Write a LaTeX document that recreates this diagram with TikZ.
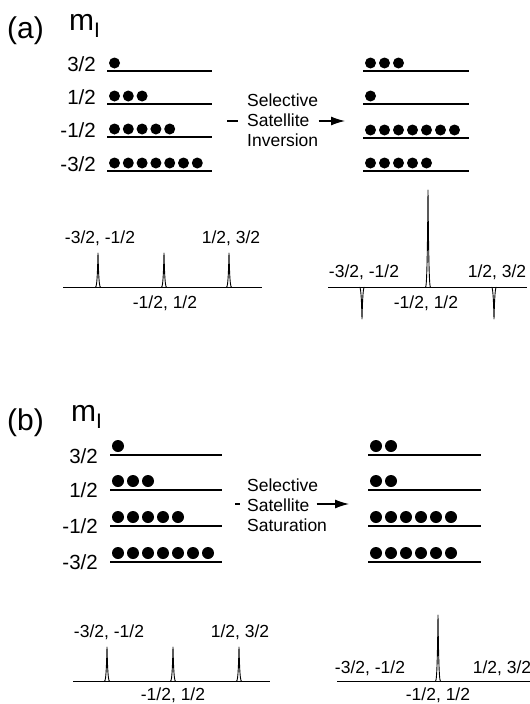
\documentclass[tikz,border=0pt]{standalone}
\usepackage{fontspec}
\setmainfont{Liberation Sans}
\usetikzlibrary{arrows.meta}
\newcommand\dotrow[5]{\foreach \i in {1,...,#4}{\fill ({#1+(\i-1)*#3},#2) circle[radius=#5];}}
\newcommand\pk[3]{\draw[spec] ({#1-2.4},#2) .. controls ({#1-0.8},#2) and ({#1-0.3},{#3+0.35*(#2-#3)}) .. (#1,#3) .. controls ({#1+0.3},{#3+0.35*(#2-#3)}) and ({#1+0.8},#2) .. ({#1+2.4},#2);}
\begin{document}
\begin{tikzpicture}[x=1pt,y=-1pt,
 lvl/.style={line width=1.1pt},
 lab/.style={font=\fontsize{17.5}{20}\selectfont,inner sep=0pt},
 lev/.style={font=\fontsize{20.5}{22}\selectfont,inner sep=0pt},
 spec/.style={line width=0.9pt,line join=round},
 big/.style={font=\fontsize{30}{32}\selectfont,inner sep=0pt},
 arr/.style={line width=1.2pt,-{Latex[length=14pt,width=9pt]}},
 dsh/.style={line width=1.2pt}]
\useasboundingbox[fill=white] (0,0) rectangle (530,704);
% ================= (a) =================
\node[big,anchor=base west] (pa) at (7,38) {(a)};
\node[big,anchor=base west] (ma) at (69,30) {m\raisebox{-7pt}{\fontsize{21}{21}\selectfont I}};
% left levels
\foreach \y in {71,104,137,171}{\draw[lvl] (107,\y) -- (212,\y);}
\node[lev,anchor=base east] (aL1) at (96,71) {3/2};
\node[lev,anchor=base east] (aL2) at (96,104) {1/2};
\node[lev,anchor=base east] (aL3) at (96,137) {-1/2};
\node[lev,anchor=base east] (aL4) at (96,171) {-3/2};
\dotrow{114.5}{63}{13.8}{1}{5.5pt}
\dotrow{114.5}{96}{13.8}{3}{5.5pt}
\dotrow{114.5}{129}{13.8}{5}{5.5pt}
\dotrow{114.5}{163}{13.8}{7}{5.5pt}
% right levels
\foreach \y in {71,104,138,171}{\draw[lvl] (363,\y) -- (469,\y);}
\dotrow{370.5}{63}{14}{3}{5.5pt}
\dotrow{370.5}{96}{14}{1}{5.5pt}
\dotrow{370.5}{130}{14}{7}{5.5pt}
\dotrow{370.5}{163}{14}{5}{5.5pt}
% arrow
\coordinate (dA) at (227,121);
\coordinate (tA) at (345,121);
\node[lab,anchor=base west] (selA) at (247,106) {Selective};
\node[lab,anchor=base west,inner xsep=9pt] (satA) at (238,126) {Satellite};
\node[lab,anchor=base west] (invA) at (247,146) {Inversion};
\draw[dsh] (dA) -- (dA -| satA.west);
\draw[arr] (satA.east |- tA) -- (tA);
% spectra
\draw[spec] (63,287) -- (262,287);
\pk{98}{287}{253}\pk{164}{287}{253}\pk{229}{287}{253}
\node[lab,anchor=base] (sa1) at (100,243) {-3/2, -1/2};
\node[lab,anchor=base] (sa2) at (231,243) {1/2, 3/2};
\node[lab,anchor=base] (sa3) at (165,308) {-1/2, 1/2};
\draw[spec] (328,287) -- (527,287);
\pk{428}{287}{190}\pk{362}{287}{319}\pk{494}{287}{319}
\node[lab,anchor=base] (sa4) at (364,277) {-3/2, -1/2};
\node[lab,anchor=base] (sa5) at (497,277) {1/2, 3/2};
\node[lab,anchor=base] (sa6) at (426,308) {-1/2, 1/2};
% ================= (b) =================
\node[big,anchor=base west] (pb) at (7,430) {(b)};
\node[big,anchor=base west] (mb) at (71,421) {m\raisebox{-7pt}{\fontsize{21}{21}\selectfont I}};
\foreach \y in {455,490,526,562}{\draw[lvl] (110,\y) -- (222,\y);}
\node[lev,anchor=base east] (bL1) at (98,463) {3/2};
\node[lev,anchor=base east] (bL2) at (98,497) {1/2};
\node[lev,anchor=base east] (bL3) at (98,533) {-1/2};
\node[lev,anchor=base east] (bL4) at (98,569) {-3/2};
\dotrow{118}{446}{15}{1}{6pt}
\dotrow{118}{481}{15}{3}{6pt}
\dotrow{118}{517}{15}{5}{6pt}
\dotrow{118}{553}{15}{7}{6pt}
\foreach \y in {455,490,526,562}{\draw[lvl] (368,\y) -- (481,\y);}
\dotrow{376}{446}{15}{2}{6pt}
\dotrow{376}{481}{15}{2}{6pt}
\dotrow{376}{517}{15}{6}{6pt}
\dotrow{376}{553}{15}{6}{6pt}
\coordinate (dB) at (235,504);
\coordinate (tB) at (349,504);
\node[lab,anchor=base west] (selB) at (247,491) {Selective};
\node[lab,anchor=base west,inner xsep=7pt] (satB) at (240,511) {Satellite};
\node[lab,anchor=base west] (sabB) at (247,531) {Saturation};
\draw[dsh] (dB) -- (dB -| satB.west);
\draw[arr] (satB.east |- tB) -- (tB);
\draw[spec] (73,681) -- (270,681);
\pk{107}{681}{647}\pk{173}{681}{647}\pk{239}{681}{647}
\node[lab,anchor=base] (sb1) at (109,637) {-3/2, -1/2};
\node[lab,anchor=base] (sb2) at (240,637) {1/2, 3/2};
\node[lab,anchor=base] (sb3) at (173,700) {-1/2, 1/2};
\draw[spec] (337,681) -- (530,681);
\pk{438}{681}{615}
\node[lab,anchor=base] (sb4) at (370,673) {-3/2, -1/2};
\node[lab,anchor=base] (sb5) at (502,673) {1/2, 3/2};
\node[lab,anchor=base] (sb6) at (438,700) {-1/2, 1/2};
\end{tikzpicture}
\end{document}
